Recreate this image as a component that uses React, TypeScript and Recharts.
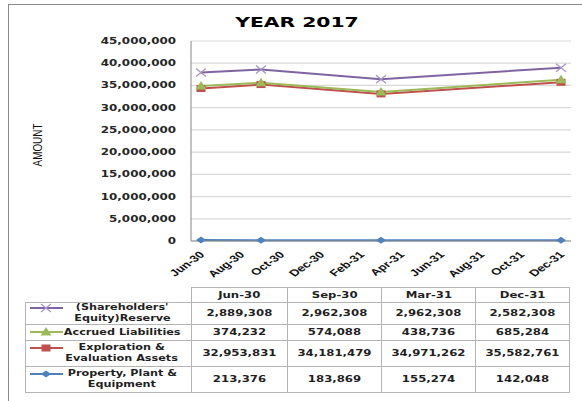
import React from "react";
import { LineChart, Line, XAxis, YAxis, CartesianGrid } from "recharts";

// ---- data ----
const tickMonths = [0, 2, 4, 6, 8, 10, 12, 14, 16, 18];
const tickLabels = ["Jun-30", "Aug-30", "Oct-30", "Dec-30", "Feb-31", "Apr-31", "Jun-31", "Aug-31", "Oct-31", "Dec-31"];
const yTicks = [0, 5000000, 10000000, 15000000, 20000000, 25000000, 30000000, 35000000, 40000000, 45000000];

const tableHeaders = ["Jun-30", "Sep-30", "Mar-31", "Dec-31"];
const pointMonths = [0, 3, 9, 18];

// plotted values
const reservePlot = [37900000, 38600000, 36400000, 39000000];
const accruedPlot = [34900000, 35600000, 33500000, 36300000];
const explorationPlot = [34300000, 35200000, 33100000, 35700000];
const propertyPlot = [213376, 183869, 155274, 142048];

// data table values
const reserveTable = [2889308, 2962308, 2962308, 2582308];
const accruedTable = [374232, 574088, 438736, 685284];
const explorationTable = [32953831, 34181479, 34971262, 35582761];
const propertyTable = [213376, 183869, 155274, 142048];

const reserveName = ["(Shareholders'", "Equity)Reserve"];
const accruedName = ["Accrued Liabilities"];
const explorationName = ["Exploration &", "Evaluation Assets"];
const propertyName = ["Property, Plant &", "Equipment"];

const chartData = pointMonths.map((m, i) => ({
  m,
  reserve: reservePlot[i],
  accrued: accruedPlot[i],
  exploration: explorationPlot[i],
  property: propertyPlot[i],
}));

const series = [
  { key: "reserve", name: reserveName, table: reserveTable, color: "#8064A2", marker: "x" },
  { key: "accrued", name: accruedName, table: accruedTable, color: "#9BBB59", marker: "triangle" },
  { key: "exploration", name: explorationName, table: explorationTable, color: "#C0504D", marker: "square" },
  { key: "property", name: propertyName, table: propertyTable, color: "#4F81BD", marker: "diamond" },
];

const fmt = (n: number) => n.toLocaleString("en-US");

function Marker({ shape, cx, cy, color }: { shape: string; cx: number; cy: number; color: string }) {
  if (shape === "x") {
    return (
      <g stroke="#A593C6" strokeWidth={1.3}>
        <line x1={cx - 5} y1={cy - 4} x2={cx + 5} y2={cy + 4} />
        <line x1={cx - 5} y1={cy + 4} x2={cx + 5} y2={cy - 4} />
      </g>
    );
  }
  if (shape === "triangle") {
    return <polygon points={`${cx},${cy - 5} ${cx + 5.5},${cy + 3.5} ${cx - 5.5},${cy + 3.5}`} fill={color} />;
  }
  if (shape === "square") {
    return <rect x={cx - 4.5} y={cy - 3.5} width={9} height={7} fill={color} />;
  }
  return <polygon points={`${cx},${cy - 3.5} ${cx + 5},${cy} ${cx},${cy + 3.5} ${cx - 5},${cy}`} fill={color} />;
}

const makeDot = (shape: string, color: string) => (p: any) => (
  <g key={`${shape}-${p.index}`}>
    <Marker shape={shape} cx={p.cx} cy={p.cy} color={color} />
  </g>
);

const YTick = (props: any) => {
  const { x, y, payload } = props;
  return (
    <text
      transform={`translate(${x - 7},${y}) scale(1.4,1)`}
      textAnchor="end"
      dy="0.35em"
      fontSize={8.5}
      fontWeight="bold"
      fontFamily="DejaVu Sans, Verdana, sans-serif"
      fill="#262626"
    >
      {fmt(payload.value)}
    </text>
  );
};

const XTick = (props: any) => {
  const { x, y, payload } = props;
  const idx = tickMonths.indexOf(payload.value);
  return (
    <text
      transform={`translate(${x + 1},${y + 4}) scale(1.4,1) rotate(-45)`}
      textAnchor="end"
      dy="0.35em"
      fontSize={9.5}
      fontWeight="bold"
      fontFamily="Liberation Sans, Arial, sans-serif"
      fill="#111"
    >
      {idx >= 0 ? tickLabels[idx] : ""}
    </text>
  );
};

const colX = [25, 191, 287, 381, 475, 569];
const rowY = [287, 302, 324, 340, 366, 392];
const borderColor = "#B4B4B4";
const tableFont = "DejaVu Sans, Verdana, sans-serif";

function Cell({ left, top, width, height, children }: any) {
  return (
    <div
      style={{
        position: "absolute",
        left,
        top,
        width: width + 1,
        height: height + 1,
        boxSizing: "border-box",
        border: `1px solid ${borderColor}`,
        display: "flex",
        alignItems: "center",
        justifyContent: "center",
      }}
    >
      {children}
    </div>
  );
}

function Stretch({ children, size, sx }: any) {
  return (
    <span
      style={{
        display: "inline-block",
        transform: `scaleX(${sx})`,
        transformOrigin: "center",
        fontFamily: tableFont,
        fontWeight: "bold",
        fontSize: size,
        lineHeight: "11px",
        whiteSpace: "nowrap",
        color: "#1f1f1f",
      }}
    >
      {children}
    </span>
  );
}

function LegendKey({ shape, color }: any) {
  return (
    <svg width={36} height={10} style={{ display: "block" }}>
      <line x1={2} y1={5} x2={35} y2={5} stroke={color} strokeWidth={2} />
      <Marker shape={shape} cx={18} cy={5} color={color} />
    </svg>
  );
}

export default function App() {
  return (
    <div style={{ position: "absolute", left: 0, top: 0, width: 582, height: 401, overflow: "hidden", background: "#fff" }}>
      <div
        style={{
          position: "absolute",
          left: 8,
          top: 4,
          width: 590,
          height: 420,
          boxSizing: "border-box",
          border: "1px solid #8A8A8A",
        }}
      />
      <div style={{ position: "absolute", left: 0, top: 0 }}>
        <LineChart width={582} height={300} data={chartData} margin={{ top: 41, right: 11, left: 0, bottom: 9 }}>
          <CartesianGrid vertical={false} stroke="#D9D9D9" strokeWidth={1.2} />
          <XAxis
            dataKey="m"
            type="number"
            domain={[-0.5, 18.5]}
            ticks={tickMonths}
            interval={0}
            allowDataOverflow
            tickLine={false}
            axisLine={{ stroke: "#868686" }}
            tick={<XTick />}
            height={50}
          />
          <YAxis
            type="number"
            domain={[0, 45000000]}
            ticks={yTicks}
            interval={0}
            tickLine={false}
            axisLine={{ stroke: "#868686" }}
            tick={<YTick />}
            width={191}
          />
          <Line dataKey="property" stroke="#4F81BD" strokeWidth={2} isAnimationActive={false} dot={makeDot("diamond", "#4F81BD")} />
          <Line dataKey="exploration" stroke="#C0504D" strokeWidth={2} isAnimationActive={false} dot={makeDot("square", "#C0504D")} />
          <Line dataKey="accrued" stroke="#9BBB59" strokeWidth={2} isAnimationActive={false} dot={makeDot("triangle", "#9BBB59")} />
          <Line dataKey="reserve" stroke="#8064A2" strokeWidth={2} isAnimationActive={false} dot={makeDot("x", "#8064A2")} />
        </LineChart>
      </div>
      <svg width={582} height={401} style={{ position: "absolute", left: 0, top: 0, pointerEvents: "none" }}>
        <text
          transform="translate(297,26.7) scale(1.45,1)"
          textAnchor="middle"
          fontSize={14}
          fontWeight="bold"
          fontFamily="DejaVu Sans, Verdana, sans-serif"
          fill="#000"
        >
          YEAR 2017
        </text>
        <text
          transform="translate(37.5,145) rotate(-90) scale(0.9,1.1)"
          textAnchor="middle"
          dy="0.35em"
          fontSize={11}
          fontFamily="Liberation Sans, Arial, sans-serif"
          fill="#111"
        >
          AMOUNT
        </text>
      </svg>
      {/* data table */}
      {tableHeaders.map((h, i) => (
        <Cell key={`h${i}`} left={colX[i + 1]} top={rowY[0]} width={colX[i + 2] - colX[i + 1]} height={rowY[1] - rowY[0]}>
          <Stretch size={9} sx={1.3}>{h}</Stretch>
        </Cell>
      ))}
      {series.map((s, r) => {
        const top = rowY[r + 1];
        const h = rowY[r + 2] - top;
        const center = top + h / 2;
        const firstLine = s.name.length > 1 ? center - 5.5 : center;
        return (
          <React.Fragment key={s.key}>
            <Cell left={colX[0]} top={top} width={colX[1] - colX[0]} height={h} />
            <div style={{ position: "absolute", left: 28, top: firstLine - 5 }}>
              <LegendKey shape={s.marker} color={s.color} />
            </div>
            <div
              style={{
                position: "absolute",
                left: 60,
                top,
                width: 124,
                height: h,
                display: "flex",
                flexDirection: "column",
                alignItems: "center",
                justifyContent: "center",
              }}
            >
              {s.name.map((ln, k) => (
                <Stretch key={k} size={8.5} sx={1.32}>
                  {ln}
                </Stretch>
              ))}
            </div>
            {s.table.map((v, c) => (
              <Cell key={c} left={colX[c + 1]} top={top} width={colX[c + 2] - colX[c + 1]} height={h}>
                <Stretch size={9} sx={1.3}>{fmt(v)}</Stretch>
              </Cell>
            ))}
          </React.Fragment>
        );
      })}
    </div>
  );
}
